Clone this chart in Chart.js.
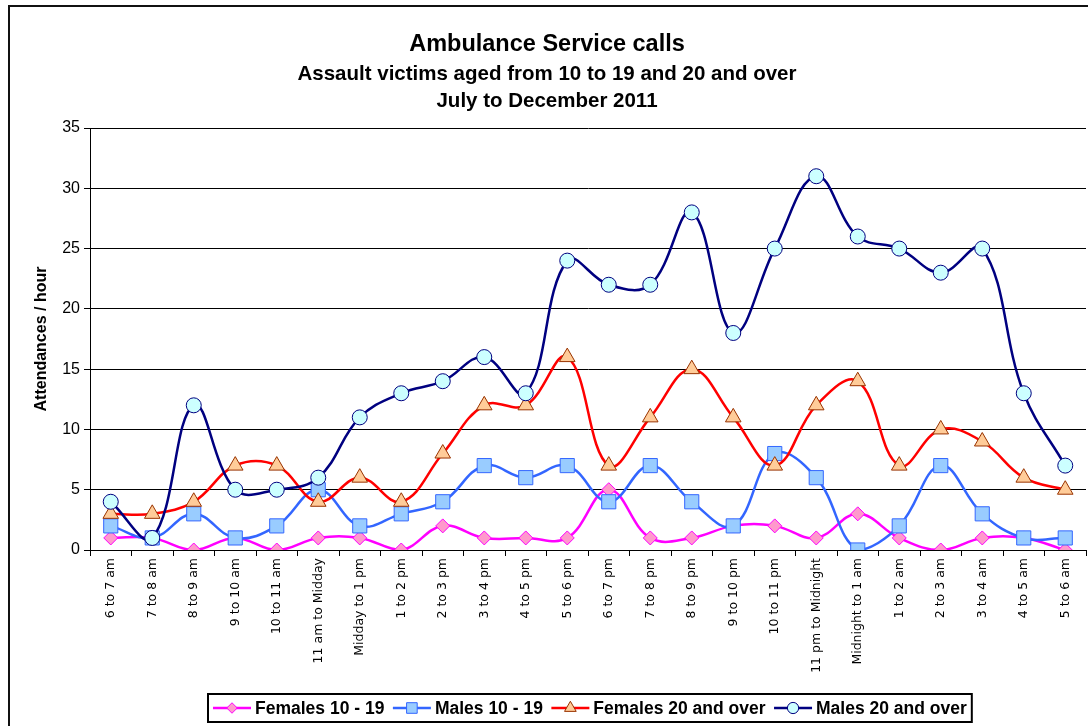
<!DOCTYPE html>
<html>
<head>
<meta charset="utf-8">
<title>Ambulance Service calls</title>
<script src="https://cdn.jsdelivr.net/npm/chart.js@4.4.1/dist/chart.umd.min.js"></script>
<style>
  html, body { margin: 0; padding: 0; background: #fff; }
  canvas { display: block; }
</style>
</head>
<body>
<canvas id="calls" width="1088" height="726"></canvas>
<script>
// hour bands, 6am through to 6am the next morning
const hours = [
  '6 to 7 am', '7 to 8 am', '8 to 9 am', '9 to 10 am', '10 to 11 am', '11 am to Midday',
  'Midday to 1 pm', '1 to 2 pm', '2 to 3 pm', '3 to 4 pm', '4 to 5 pm', '5 to 6 pm',
  '6 to 7 pm', '7 to 8 pm', '8 to 9 pm', '9 to 10 pm', '10 to 11 pm', '11 pm to Midnight',
  'Midnight to 1 am', '1 to 2 am', '2 to 3 am', '3 to 4 am', '4 to 5 am', '5 to 6 am'
];

const females1019 = [1, 1, 0, 1, 0, 1, 1, 0, 2, 1, 1, 1, 5, 1, 1, 2, 2, 1, 3, 1, 0, 1, 1, 0];
const males1019   = [2, 1, 3, 1, 2, 5, 2, 3, 4, 7, 6, 7, 4, 7, 4, 2, 8, 6, 0, 2, 7, 3, 1, 1];
const females20   = [3, 3, 4, 7, 7, 4, 6, 4, 8, 12, 12, 16, 7, 11, 15, 11, 7, 12, 14, 7, 10, 9, 6, 5];
const males20     = [4, 1, 12, 5, 5, 6, 11, 13, 14, 16, 13, 24, 22, 22, 28, 18, 25, 31, 26, 25, 23, 25, 13, 7];

const yTicks = [0, 5, 10, 15, 20, 25, 30, 35];

const ARIAL = "'Liberation Sans', Arial, sans-serif";
const VERDANA = "'DejaVu Sans', Verdana, sans-serif";

function series(label, data, line, fill, edge, style, radius, order) {
  return {
    label,
    data,
    borderColor: line,
    borderWidth: 2.5,
    tension: 0.4,
    fill: false,
    pointStyle: style,
    pointRadius: radius,
    pointBackgroundColor: fill,
    pointBorderColor: edge,
    pointBorderWidth: 1,
    order
  };
}

// later series sit on top of earlier ones
const datasets = [
  series('Females 10 - 19', females1019, '#ff00ff', '#ff99cc', '#ff00ff', 'rectRot', 7, 3),
  series('Males 10 - 19', males1019, '#3366ff', '#99ccff', '#3366ff', 'rect', 10, 2),
  series('Females 20 and over', females20, '#ff0000', '#ffcc99', '#993300', 'triangle', 9, 1),
  series('Males 20 and over', males20, '#000080', '#ccffff', '#000080', 'circle', 7.5, 0)
];

// white page plus the outer frame
const framePlugin = {
  id: 'frame',
  beforeDraw(chart) {
    const ctx = chart.ctx;
    ctx.save();
    ctx.fillStyle = '#fff';
    ctx.fillRect(0, 0, chart.width, chart.height);
    ctx.strokeStyle = '#111';
    ctx.lineWidth = 2;
    ctx.strokeRect(9, 6, chart.width + 20, chart.height + 20);
    ctx.restore();
  }
};

// boxed legend along the bottom: line sample with marker, then the name
const boxLegend = {
  id: 'boxLegend',
  afterDraw(chart) {
    const ctx = chart.ctx;
    const left = 208, top = 694, h = 28;
    const sample = 38, gap = 4, spacing = 8.5, pad = 5;
    ctx.save();
    ctx.font = 'bold 17.5px ' + ARIAL;
    ctx.textBaseline = 'middle';
    const items = chart.data.datasets.map(ds => ({ ds, w: ctx.measureText(ds.label).width }));
    const total = items.reduce((s, it) => s + sample + gap + it.w, 0) + spacing * (items.length - 1);
    const boxW = total + pad * 2;
    ctx.fillStyle = '#fff';
    ctx.fillRect(left, top, boxW, h);
    ctx.strokeStyle = '#000';
    ctx.lineWidth = 2;
    ctx.strokeRect(left, top, boxW, h);

    let x = left + pad;
    const cy = top + h / 2;
    items.forEach(({ ds, w }) => {
      ctx.strokeStyle = ds.borderColor;
      ctx.lineWidth = 2.5;
      ctx.beginPath();
      ctx.moveTo(x, cy);
      ctx.lineTo(x + sample, cy);
      ctx.stroke();
      ctx.fillStyle = ds.pointBackgroundColor;
      ctx.strokeStyle = ds.pointBorderColor;
      ctx.lineWidth = 1;
      Chart.helpers.drawPoint(ctx, {
        pointStyle: ds.pointStyle,
        radius: ds.pointRadius * 0.75,
        borderWidth: 1
      }, x + sample / 2, cy);
      ctx.fillStyle = '#000';
      ctx.fillText(ds.label, x + sample + gap, cy + 1);
      x += sample + gap + w + spacing;
    });
    ctx.restore();
  }
};

new Chart(document.getElementById('calls'), {
  type: 'line',
  data: { labels: hours, datasets },
  plugins: [framePlugin, boxLegend],
  options: {
    responsive: false,
    animation: false,
    events: [],
    layout: { autoPadding: false, padding: { top: 5, left: 8, right: 2, bottom: 50 } },
    plugins: {
      legend: { display: false },
      tooltip: { enabled: false },
      title: {
        display: true,
        text: 'Ambulance Service calls',
        color: '#000',
        font: { family: ARIAL, size: 23.5, weight: 'bold', lineHeight: 1.2 },
        padding: { top: 25, bottom: 1 }
      },
      subtitle: {
        display: true,
        text: ['Assault victims aged from 10 to 19 and 20 and over', 'July to December 2011'],
        color: '#000',
        font: { family: ARIAL, size: 20.5, weight: 'bold', lineHeight: 1.3 },
        padding: { top: 2, bottom: 13.5 }
      }
    },
    scales: {
      x: {
        offset: true,
        grid: { offset: true, drawOnChartArea: false, drawTicks: true, tickLength: 6, color: '#000' },
        border: { color: '#000', width: 1 },
        ticks: {
          autoSkip: false,
          maxRotation: 90,
          minRotation: 90,
          color: '#000',
          padding: 2,
          font: { family: VERDANA, size: 12.5 }
        },
        afterFit(scale) {
          scale.height = 126;
          scale.paddingLeft = 0;
          scale.paddingRight = 0;
        }
      },
      y: {
        min: 0,
        max: 35,
        afterBuildTicks(scale) { scale.ticks = yTicks.map(v => ({ value: v })); },
        ticks: { color: '#000', padding: 4, font: { family: ARIAL, size: 16 } },
        grid: { color: '#000', lineWidth: 1, tickLength: 6 },
        border: { color: '#000', width: 1 },
        title: {
          display: true,
          text: 'Attendances / hour',
          color: '#000',
          font: { family: ARIAL, size: 16, weight: 'bold' },
          padding: { top: 24, bottom: 0 }
        },
        afterFit(scale) { scale.width = 82; }
      }
    }
  }
});
</script>
</body>
</html>
